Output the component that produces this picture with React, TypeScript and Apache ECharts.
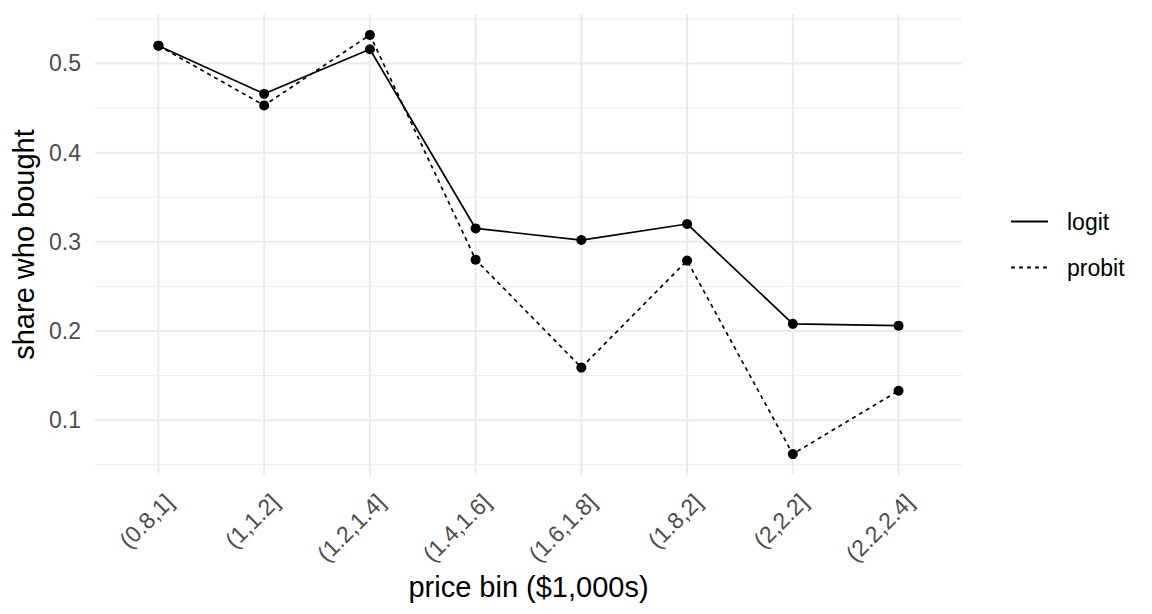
import React, { useEffect, useRef } from "react";
import * as echarts from "echarts";

const categories = ["(0.8,1]", "(1,1.2]", "(1.2,1.4]", "(1.4,1.6]", "(1.6,1.8]", "(1.8,2]", "(2,2.2]", "(2.2,2.4]"];
const logit = [0.520, 0.466, 0.516, 0.315, 0.302, 0.320, 0.208, 0.206];
const probit = [0.520, 0.453, 0.532, 0.280, 0.159, 0.279, 0.062, 0.133];
const yTicks = [0.1, 0.2, 0.3, 0.4, 0.5];
const yMinorTicks = [0.05, 0.15, 0.25, 0.35, 0.45, 0.55];

const FONT = "'Liberation Sans', Arial, sans-serif";
const GRID = "#EBEBEB";

export default function App() {
  const ref = useRef<HTMLDivElement>(null);
  useEffect(() => {
    if (!ref.current) return;
    const chart = echarts.init(ref.current, undefined, { renderer: "svg" });
    const all = logit.concat(probit);
    const lo = Math.min(...all);
    const hi = Math.max(...all);
    const pad = (hi - lo) * 0.05;
    const yMin = lo - pad;
    const yMax = hi + pad;
    const xMin = -0.6;
    const xMax = categories.length - 1 + 0.6;
    const idx = categories.map((_, i) => i);

    const gridSeries: any[] = [];
    yMinorTicks.forEach((v) =>
      gridSeries.push({ type: "line", data: [[xMin, v], [xMax, v]], symbol: "none", silent: true, z: 1, lineStyle: { color: GRID, width: 1 } })
    );
    yTicks.forEach((v) =>
      gridSeries.push({ type: "line", data: [[xMin, v], [xMax, v]], symbol: "none", silent: true, z: 1, lineStyle: { color: GRID, width: 2 } })
    );
    idx.forEach((i) =>
      gridSeries.push({ type: "line", data: [[i, yMin], [i, yMax]], symbol: "none", silent: true, z: 1, lineStyle: { color: GRID, width: 2 } })
    );

    chart.setOption({
      animation: false,
      textStyle: { fontFamily: FONT },
      grid: { left: 95, right: 190, top: 14, bottom: 139, containLabel: false },
      legend: {
        data: [{ name: "logit" }, { name: "probit" }],
        orient: "vertical",
        left: 1005,
        top: 205,
        itemWidth: 37,
        itemHeight: 18,
        itemGap: 23,
        itemStyle: { opacity: 0 },
        textStyle: { fontSize: 23, lineHeight: 23, color: "#000", fontFamily: FONT, padding: [0, 0, 0, 14] },
      },
      xAxis: {
        type: "value",
        min: xMin,
        max: xMax,
        name: "price bin ($1,000s)",
        nameLocation: "middle",
        nameGap: 95,
        nameTextStyle: { fontSize: 29, color: "#000", fontFamily: FONT },
        axisLine: { show: false },
        axisTick: { show: false, customValues: idx },
        splitLine: { show: false },
        axisLabel: {
          customValues: idx,
          rotate: 45,
          align: "right",
          verticalAlign: "top",
          margin: 12,
          padding: [4, 0, 0, 0],
          fontSize: 23,
          color: "#4D4D4D",
          fontFamily: FONT,
          formatter: (v: number) => categories[Math.round(v)] ?? "",
        },
      },
      yAxis: {
        type: "value",
        min: yMin,
        max: yMax,
        name: "share who bought",
        nameLocation: "middle",
        nameGap: 53,
        nameRotate: 90,
        nameTextStyle: { fontSize: 29, color: "#000", fontFamily: FONT },
        axisLine: { show: false },
        axisTick: { show: false, customValues: yTicks },
        splitLine: { show: false },
        axisLabel: {
          customValues: yTicks,
          margin: 14,
          padding: [3, 0, 0, 0],
          fontSize: 23,
          color: "#4D4D4D",
          fontFamily: FONT,
          formatter: (v: number) => v.toFixed(1),
        },
      },
      series: [
        ...gridSeries,
        {
          name: "logit",
          type: "line",
          data: logit.map((v, i) => [i, v]),
          symbol: "none",
          z: 3,
          lineStyle: { color: "#000", width: 1.7, type: "solid" },
          itemStyle: { color: "#000" },
        },
        {
          name: "probit",
          type: "line",
          data: probit.map((v, i) => [i, v]),
          symbol: "none",
          z: 3,
          lineStyle: { color: "#000", width: 1.7, type: [4, 4] },
          itemStyle: { color: "#000" },
        },
        {
          name: "logit pts",
          type: "scatter",
          data: logit.map((v, i) => [i, v]),
          symbolSize: 10,
          z: 4,
          itemStyle: { color: "#000", opacity: 1 },
        },
        {
          name: "probit pts",
          type: "scatter",
          data: probit.map((v, i) => [i, v]),
          symbolSize: 10,
          z: 4,
          itemStyle: { color: "#000", opacity: 1 },
        },
      ],
    });
    return () => chart.dispose();
  }, []);
  return (
    <div
      ref={ref}
      style={{ position: "fixed", left: 0, top: 0, width: 1152, height: 614, background: "#fff" }}
    />
  );
}
